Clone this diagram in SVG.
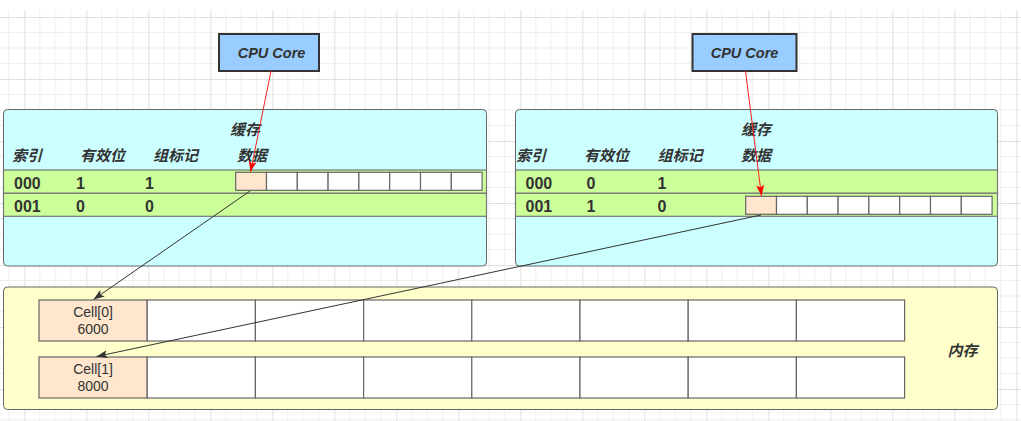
<svg xmlns="http://www.w3.org/2000/svg" width="1021" height="421" viewBox="0 0 1021 421">
<style>
.cjk{font-family:"Liberation Sans","Noto Sans CJK SC",sans-serif;font-weight:bold;font-style:italic;font-size:15px;fill:#333}
.cpu{font-family:"Liberation Sans",sans-serif;font-weight:bold;font-style:italic;font-size:14.5px;fill:#333}
.num{font-family:"Liberation Sans",sans-serif;font-weight:bold;font-size:16px;fill:#333}
.cell{font-family:"Liberation Sans",sans-serif;font-size:14px;fill:#333}
.cpubox{fill:#99ccff;stroke:#333;stroke-width:2}
.cache{fill:#ccffff;stroke:#666;stroke-width:1}
.row{fill:#ccff99;stroke:#777;stroke-width:1.2}
.c{fill:#fff;stroke:#666;stroke-width:1.2}
.hl{fill:#ffe6cc}
.mem{fill:#ffffcc;stroke:#666;stroke-width:1}
.red{stroke:#ff2020;stroke-width:1;fill:none}
.blk{stroke:#333;stroke-width:1;fill:none}
</style>
<defs>
<pattern id="grid" x="24.3" y="17" width="62" height="62" patternUnits="userSpaceOnUse">
<path d="M15.5 0V62M31 0V62M46.5 0V62M0 15.5H62M0 31H62M0 46.5H62" stroke="#eeeeee" stroke-width="1"/>
<path d="M0.5 0V62M0 0.5H62" stroke="#e0e0e0" stroke-width="1"/>
</pattern>
<marker id="ar" markerWidth="11" markerHeight="8" refX="11" refY="4" orient="auto" markerUnits="userSpaceOnUse">
<path d="M0,0 L11,4 L0,8 L2.5,4 Z" fill="#ff0000"/>
</marker>
<marker id="ab" markerWidth="11" markerHeight="8" refX="11" refY="4" orient="auto" markerUnits="userSpaceOnUse">
<path d="M0,0 L11,4 L0,8 L2.5,4 Z" fill="#333"/>
</marker>
</defs>
<rect width="1021" height="421" fill="#fff"/>
<rect x="0" y="10" width="1021" height="411" fill="url(#grid)"/>

<g id="cpu1">
<rect class="cpubox" x="219" y="34" width="100" height="37"/>
<text class="cpu" x="271.5" y="58" text-anchor="middle">CPU Core</text>
</g>
<g id="cpu2">
<rect class="cpubox" x="692.5" y="34" width="104" height="37"/>
<text class="cpu" x="744.5" y="58" text-anchor="middle">CPU Core</text>
</g>

<g id="cache1">
<rect class="cache" x="3.5" y="109.5" width="483" height="156.5" rx="4"/>
<rect class="row" x="3.5" y="170" width="483" height="23.3"/>
<rect class="row" x="3.5" y="193.3" width="483" height="23"/>
<text class="cjk" x="230" y="135">缓存</text>
<text class="cjk" x="237" y="161">数据</text>
<text class="cjk" x="12" y="161">索引</text>
<text class="cjk" x="80" y="161">有效位</text>
<text class="cjk" x="153" y="161">组标记</text>
<text class="num" x="14" y="188.5">000</text>
<text class="num" x="76" y="188.5">1</text>
<text class="num" x="145" y="188.5">1</text>
<text class="num" x="14" y="211.5">001</text>
<text class="num" x="76" y="211.5">0</text>
<text class="num" x="145" y="211.5">0</text>
<g>
<rect class="c hl" x="235.7" y="172.3" width="30.8" height="18"/>
<rect class="c" x="266.5" y="172.3" width="30.8" height="18"/>
<rect class="c" x="297.3" y="172.3" width="30.8" height="18"/>
<rect class="c" x="328.1" y="172.3" width="30.8" height="18"/>
<rect class="c" x="358.9" y="172.3" width="30.8" height="18"/>
<rect class="c" x="389.7" y="172.3" width="30.8" height="18"/>
<rect class="c" x="420.5" y="172.3" width="30.8" height="18"/>
<rect class="c" x="451.3" y="172.3" width="30.8" height="18"/>
</g>
</g>

<g id="cache2">
<rect class="cache" x="515.5" y="109.5" width="482" height="156.5" rx="4"/>
<rect class="row" x="515.5" y="170" width="482" height="23.3"/>
<rect class="row" x="515.5" y="193.3" width="482" height="23"/>
<text class="cjk" x="741" y="135">缓存</text>
<text class="cjk" x="741" y="161">数据</text>
<text class="cjk" x="516" y="161">索引</text>
<text class="cjk" x="584" y="161">有效位</text>
<text class="cjk" x="657.5" y="161">组标记</text>
<text class="num" x="525.5" y="188.5">000</text>
<text class="num" x="586.5" y="188.5">0</text>
<text class="num" x="657.5" y="188.5">1</text>
<text class="num" x="525.5" y="211.5">001</text>
<text class="num" x="586.5" y="211.5">1</text>
<text class="num" x="657.5" y="211.5">0</text>
<g>
<rect class="c hl" x="745.7" y="196.3" width="30.8" height="18"/>
<rect class="c" x="776.5" y="196.3" width="30.8" height="18"/>
<rect class="c" x="807.3" y="196.3" width="30.8" height="18"/>
<rect class="c" x="838.1" y="196.3" width="30.8" height="18"/>
<rect class="c" x="868.9" y="196.3" width="30.8" height="18"/>
<rect class="c" x="899.7" y="196.3" width="30.8" height="18"/>
<rect class="c" x="930.5" y="196.3" width="30.8" height="18"/>
<rect class="c" x="961.3" y="196.3" width="30.8" height="18"/>
</g>
</g>

<g id="memory">
<rect class="mem" x="3.5" y="287" width="994" height="122.5" rx="4"/>
<text class="cjk" x="947.5" y="356">内存</text>
<g id="memrow0">
<rect class="c hl" x="39" y="300" width="108.2" height="41"/>
<rect class="c" x="147.2" y="300" width="108.2" height="41"/>
<rect class="c" x="255.4" y="300" width="108.2" height="41"/>
<rect class="c" x="363.6" y="300" width="108.2" height="41"/>
<rect class="c" x="471.8" y="300" width="108.2" height="41"/>
<rect class="c" x="580" y="300" width="108.2" height="41"/>
<rect class="c" x="688.2" y="300" width="108.2" height="41"/>
<rect class="c" x="796.4" y="300" width="108.2" height="41"/>
<text class="cell" x="93" y="317" text-anchor="middle">Cell[0]</text>
<text class="cell" x="93" y="333.5" text-anchor="middle">6000</text>
</g>
<g id="memrow1">
<rect class="c hl" x="39" y="357" width="108.2" height="41"/>
<rect class="c" x="147.2" y="357" width="108.2" height="41"/>
<rect class="c" x="255.4" y="357" width="108.2" height="41"/>
<rect class="c" x="363.6" y="357" width="108.2" height="41"/>
<rect class="c" x="471.8" y="357" width="108.2" height="41"/>
<rect class="c" x="580" y="357" width="108.2" height="41"/>
<rect class="c" x="688.2" y="357" width="108.2" height="41"/>
<rect class="c" x="796.4" y="357" width="108.2" height="41"/>
<text class="cell" x="93" y="374" text-anchor="middle">Cell[1]</text>
<text class="cell" x="93" y="390.5" text-anchor="middle">8000</text>
</g>
</g>

<g id="connectors">
<path class="red" d="M271,71 L250.5,172" marker-end="url(#ar)"/>
<path class="red" d="M745.5,71 L761.5,196" marker-end="url(#ar)"/>
<path class="blk" d="M250,191 L93.5,299.5" marker-end="url(#ab)"/>
<path class="blk" d="M761,215 L96.5,356.5" marker-end="url(#ab)"/>
</g>
</svg>
